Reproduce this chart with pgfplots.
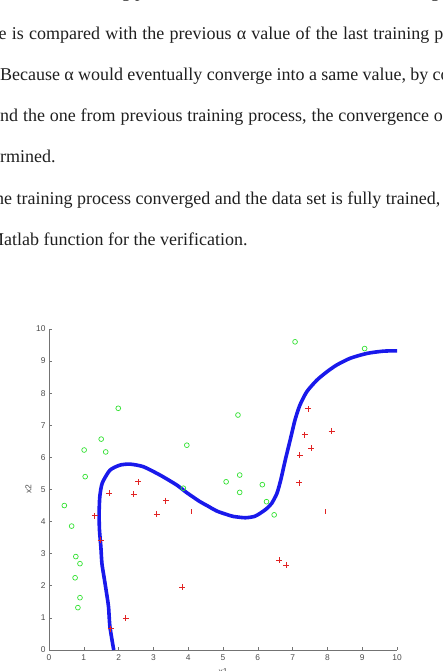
\documentclass[border=0pt]{standalone}
\usepackage{fontspec}
\setmainfont{Liberation Serif}
\newfontfamily\axisfont{Liberation Sans}
\usepackage{pgfplots}
\pgfplotsset{compat=1.18}
\definecolor{mgreen}{RGB}{50,225,50}
\definecolor{mred}{RGB}{225,35,35}
\definecolor{mblue}{RGB}{25,25,235}
\begin{document}
\begin{tikzpicture}[x=1bp,y=1bp]
\useasboundingbox (0,0) rectangle (443,671);
\clip (0,0) rectangle (443,671);
\tikzset{txt/.style={anchor=base west, inner sep=0pt, text=black!88, font=\fontsize{18bp}{20bp}\selectfont}}
\node[txt] at (-7,673) {of the next training process, the α value of the current training process};
\node[txt] at (-32.5,631.7) {\spaceskip=5.2bp plus 1bp value is compared with the previous α value of the last training process.};
\node[txt] at (0,590.5) {\spaceskip=4.3bp plus 1bp Because α would eventually converge into a same value, by comparing};
\node[txt] at (-8,549.3) {\spaceskip=4.85bp plus 1bp and the one from previous training process, the convergence of};
\node[txt] at (-30,508.1) {determined.};
\node[txt] at (-10,466.9) {the training process converged and the data set is fully trained,};
\node[txt] at (-12,425.7) {Matlab function for the verification.};
\begin{axis}[
  at={(49bp,21bp)}, anchor=south west,
  scale only axis, width=348bp, height=321bp,
  xmin=0, xmax=10, ymin=0, ymax=10,
  axis x line=bottom, axis y line=left,
  axis line style={-, draw=black!55, line width=0.6bp},
  xtick={0,1,...,10}, ytick={0,1,...,10},
  tick align=inside, major tick length=2.5bp,
  tick style={draw=black!55, line width=0.6bp},
  /pgf/number format/assume math mode=true,
  tick label style={font=\axisfont\fontsize{8.4bp}{9bp}\selectfont, text=black!70},
  xticklabel style={yshift=-1.5bp},
  xlabel={x1}, ylabel={x2},
  every axis x label/.style={at={(axis description cs:0.5,0)}, anchor=north, yshift=-18bp, inner sep=0pt, font=\axisfont\fontsize{8.5bp}{9bp}\selectfont, text=black!70},
  every axis y label/.style={at={(axis description cs:-0.0595,0.5)}, anchor=center, rotate=90, inner sep=0pt, font=\axisfont\fontsize{8.5bp}{9bp}\selectfont, text=black!70},
  clip=false,
]
\addplot[mblue, line width=3.6bp, smooth, tension=0.4] coordinates {
(1.86,0.0) (1.75,0.73) (1.71,1.35) (1.64,1.87) (1.58,2.28) (1.52,2.70) (1.49,3.22) (1.45,3.74) (1.44,4.26) (1.46,4.78) (1.53,5.20) (1.75,5.60) (2.04,5.76) (2.33,5.79) (2.71,5.71) (3.19,5.45) (3.67,5.14) (3.96,4.90) (4.34,4.62) (4.54,4.50) (4.82,4.33) (5.11,4.22) (5.30,4.16) (5.64,4.12) (5.90,4.16) (6.07,4.26) (6.25,4.40) (6.40,4.57) (6.55,4.88) (6.66,5.30) (6.79,5.92) (6.93,6.54) (7.07,7.17) (7.21,7.63) (7.41,8.05) (7.70,8.41) (7.99,8.67) (8.27,8.88) (8.66,9.09) (9.14,9.24) (9.61,9.31) (10.0,9.32)
};
\addplot[only marks, mark=o, mark size=2.4bp, mark options={draw=mgreen, line width=0.7bp}] coordinates {
(1.99,7.53) (1.50,6.57) (1.01,6.23) (1.63,6.17) (3.96,6.38) (1.04,5.40) (5.43,7.32) (5.09,5.24) (3.86,5.04) (5.48,5.45) (5.48,4.91) (7.07,9.60) (9.07,9.39) (6.13,5.15) (6.25,4.62) (6.47,4.21) (0.44,4.50) (0.65,3.86) (0.77,2.91) (0.89,2.69) (0.75,2.25) (0.89,1.63) (0.83,1.32)
};
\addplot[only marks, mark=+, mark size=3bp, mark options={draw=mred, line width=0.9bp}] coordinates {
(2.57,5.24) (1.73,4.88) (2.44,4.85) (1.32,4.18) (1.48,3.42) (3.09,4.23) (3.36,4.65) (3.83,1.95) (2.21,0.99) (1.77,0.66) (7.45,7.51) (8.12,6.82) (7.35,6.70) (7.53,6.28) (7.21,6.06) (7.19,5.21) (6.61,2.79) (6.82,2.64)
};
\addplot[only marks, mark=|, mark size=2.5bp, mark options={draw=mred, line width=0.9bp}] coordinates {
(4.08,4.31) (7.95,4.31)
};
\end{axis}
\end{tikzpicture}
\end{document}
